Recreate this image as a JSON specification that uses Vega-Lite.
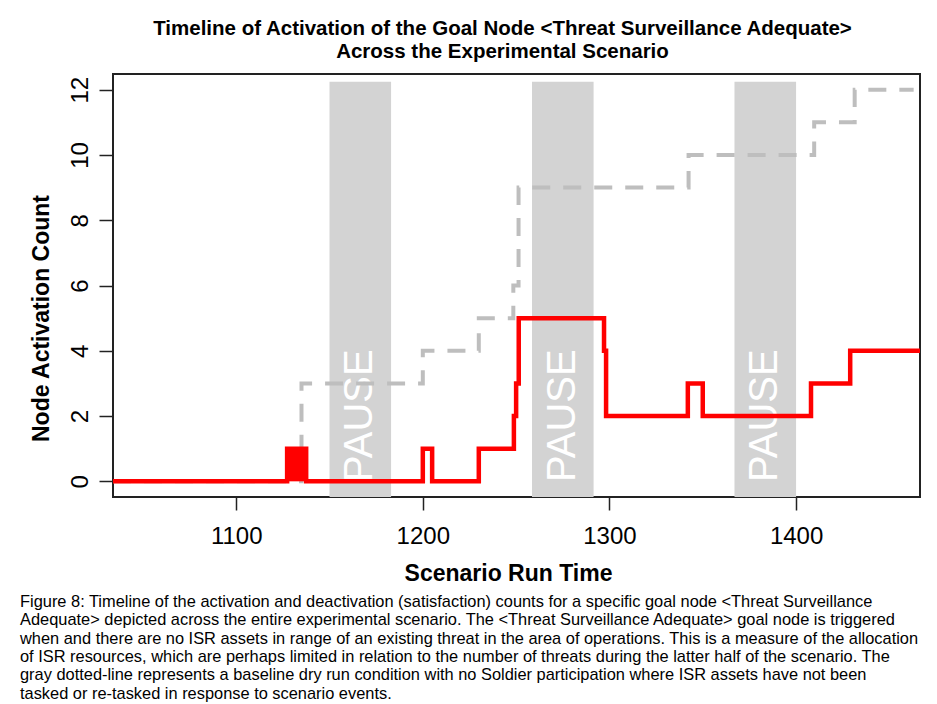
{
  "$schema": "https://vega.github.io/schema/vega-lite/v6.json",
  "padding": {"left": 20, "top": 17, "right": 5, "bottom": 2},
  "background": "white",
  "datasets": {
    "pauses": [
      {"start": 1150, "end": 1183, "top": 12.24, "label": "PAUSE"},
      {"start": 1258.5, "end": 1291.5, "top": 12.24, "label": "PAUSE"},
      {"start": 1367, "end": 1400, "top": 12.24, "label": "PAUSE"}
    ],
    "session": [
      {"time": 1034, "count": 0},
      {"time": 1127.3, "count": 1},
      {"time": 1137.5, "count": 0},
      {"time": 1200, "count": 1},
      {"time": 1205, "count": 0},
      {"time": 1230, "count": 1},
      {"time": 1248.8, "count": 2},
      {"time": 1250, "count": 3},
      {"time": 1251.4, "count": 5},
      {"time": 1297.1, "count": 4},
      {"time": 1298.2, "count": 2},
      {"time": 1342, "count": 3},
      {"time": 1350, "count": 2},
      {"time": 1408, "count": 3},
      {"time": 1429, "count": 4},
      {"time": 1466.4, "count": 4}
    ],
    "burst": [
      {"start": 1127.3, "end": 1137.5, "low": 0, "high": 1}
    ],
    "dryrun": [
      {"time": 1034, "count": 0},
      {"time": 1135, "count": 3},
      {"time": 1200, "count": 4},
      {"time": 1230, "count": 5},
      {"time": 1248.5, "count": 6},
      {"time": 1251.3, "count": 9},
      {"time": 1342.4, "count": 10},
      {"time": 1409.7, "count": 11},
      {"time": 1431.4, "count": 12},
      {"time": 1463, "count": 12}
    ]
  },
  "title": {
    "text": [
      "Figure 8: Timeline of the activation and deactivation (satisfaction) counts for a specific goal node <Threat Surveillance",
      "Adequate> depicted across the entire experimental scenario. The <Threat Surveillance Adequate> goal node is triggered",
      "when and there are no ISR assets in range of an existing threat in the area of operations. This is a measure of the allocation",
      "of ISR resources, which are perhaps limited in relation to the number of threats during the latter half of the scenario. The",
      "gray dotted-line represents a baseline dry run condition with no Soldier participation where ISR assets have not been",
      "tasked or re-tasked in response to scenario events."
    ],
    "orient": "bottom",
    "anchor": "start",
    "font": "Liberation Sans",
    "fontSize": 16.4,
    "fontWeight": "normal",
    "lineHeight": 18.3,
    "color": "black",
    "offset": 8,
    "dx": -9
  },
  "vconcat": [
    {
      "title": {
        "text": [
          "Timeline of Activation of the Goal Node <Threat Surveillance Adequate>",
          "Across the Experimental Scenario"
        ],
        "font": "Liberation Sans",
        "fontSize": 20.5,
        "fontWeight": "bold",
        "lineHeight": 23,
        "color": "black",
        "anchor": "middle",
        "offset": 12,
        "dx": -14
      },
      "width": 807,
      "height": 423,
      "layer": [
        {
          "data": {"name": "pauses"},
          "mark": {"type": "rect", "color": "#d3d3d3"},
          "encoding": {
            "x": {
              "field": "start",
              "type": "quantitative",
              "scale": {"domain": [1034, 1466.4], "nice": false, "zero": false},
              "axis": {
                "title": "Scenario Run Time",
                "values": [1100, 1200, 1300, 1400],
                "labelFontSize": 24,
                "labelFont": "Liberation Sans",
                "labelColor": "black",
                "labelPadding": 14,
                "tickSize": 13,
                "tickWidth": 1.5,
                "tickColor": "#222",
                "domain": false,
                "grid": false,
                "titleFont": "Liberation Sans",
                "titleFontSize": 23,
                "titleFontWeight": "bold",
                "titleColor": "black",
                "titlePadding": 14,
                "titleX": 395,
                "format": "d"
              }
            },
            "x2": {"field": "end"},
            "y": {
              "field": "top",
              "type": "quantitative",
              "scale": {"domain": [-0.48, 12.48], "nice": false, "zero": false},
              "axis": {
                "title": "Node Activation Count",
                "values": [0, 2, 4, 6, 8, 10, 12],
                "labelAngle": 270,
                "labelAlign": "center",
                "labelBaseline": "alphabetic",
                "labelFontSize": 24,
                "labelFont": "Liberation Sans",
                "labelColor": "black",
                "labelPadding": 12,
                "tickSize": 14,
                "tickWidth": 1.5,
                "tickColor": "#222",
                "domain": false,
                "grid": false,
                "titleFont": "Liberation Sans",
                "titleFontSize": 23,
                "titleFontWeight": "bold",
                "titleColor": "black",
                "titlePadding": 15,
                "titleY": 244
              }
            },
            "y2": {"datum": -0.48}
          }
        },
        {
          "data": {"name": "pauses"},
          "transform": [{"calculate": "(datum.start + datum.end) / 2", "as": "mid"}],
          "mark": {
            "type": "text",
            "angle": 270,
            "align": "left",
            "baseline": "middle",
            "font": "Liberation Sans",
            "fontSize": 40,
            "color": "white"
          },
          "encoding": {
            "x": {"field": "mid", "type": "quantitative"},
            "y": {"datum": -0.02, "type": "quantitative"},
            "text": {"field": "label"}
          }
        },
        {
          "data": {"name": "dryrun"},
          "mark": {
            "type": "line",
            "interpolate": "step-after",
            "color": "#bebebe",
            "strokeWidth": 4,
            "strokeDash": [18, 13]
          },
          "encoding": {
            "x": {"field": "time", "type": "quantitative"},
            "y": {"field": "count", "type": "quantitative"}
          }
        },
        {
          "data": {"name": "burst"},
          "mark": {"type": "rect", "color": "#ff0000"},
          "encoding": {
            "x": {"field": "start", "type": "quantitative"},
            "x2": {"field": "end"},
            "y": {"field": "low", "type": "quantitative"},
            "y2": {"field": "high"}
          }
        },
        {
          "data": {"name": "session"},
          "mark": {
            "type": "line",
            "interpolate": "step-after",
            "color": "#ff0000",
            "strokeWidth": 4.5
          },
          "encoding": {
            "x": {"field": "time", "type": "quantitative"},
            "y": {"field": "count", "type": "quantitative"}
          }
        }
      ]
    }
  ],
  "config": {
    "view": {"stroke": "#222", "strokeWidth": 2},
    "font": "Liberation Sans"
  }
}
